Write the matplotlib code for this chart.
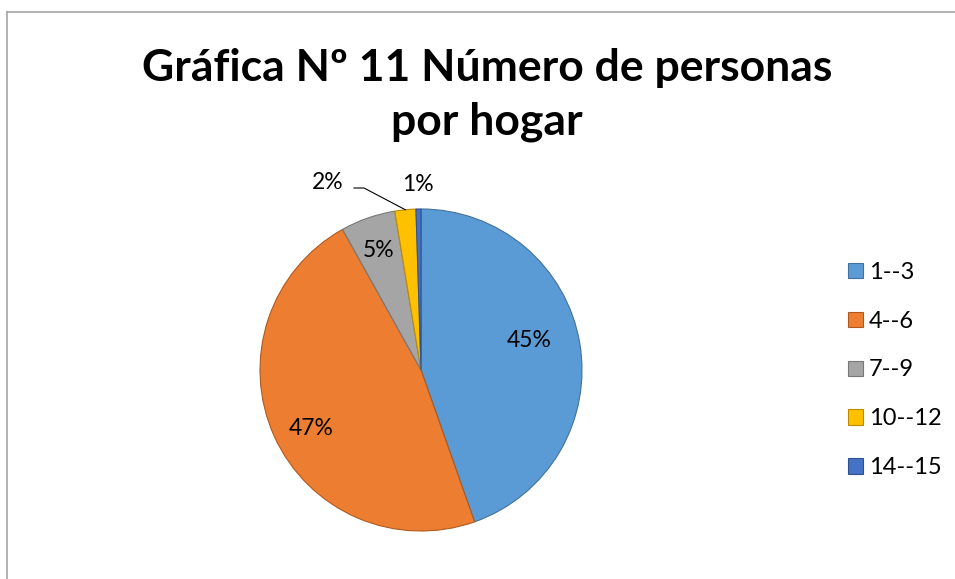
import numpy as np
import matplotlib
matplotlib.use("Agg")
import matplotlib.pyplot as plt
from matplotlib.lines import Line2D

categories = ["1--3", "4--6", "7--9", "10--12", "14--15"]
values = [44.6, 47.3, 5.5, 2.1, 0.5]
pct_labels = ["45%", "47%", "5%", "2%", "1%"]
colors = ["#5B9BD5", "#ED7D31", "#A5A5A5", "#FFC000", "#4472C4"]
edges = ["#41719C", "#AE5A21", "#787878", "#BC8C00", "#2F528F"]
title = "Gráfica Nº 11 Número de personas\npor hogar"

FONT = ["Lato", "DejaVu Sans"]
plt.rcParams["font.family"] = FONT

W, H = 955, 579
fig = plt.figure(figsize=(W / 100, H / 100), dpi=100)

# border (only top and left visible)
fig.add_artist(Line2D([6.5 / W, 1.0], [1 - 11.5 / H, 1 - 11.5 / H], color="#A6A6A6", lw=1.2))
fig.add_artist(Line2D([6.5 / W, 6.5 / W], [0, 1 - 11.5 / H], color="#A6A6A6", lw=1.2))

fig.text(487 / W, 1 - 95 / H, title, ha="center", va="center", fontsize=32,
         fontweight="bold", linespacing=1.38, color="#000000")

cx, cy, r = 421, 370, 161
ax = fig.add_axes([(cx - r) / W, (H - cy - r) / H, 2 * r / W, 2 * r / H])
wedges, _ = ax.pie(values, colors=colors, startangle=90, counterclock=False,
                   wedgeprops=dict(linewidth=0.8))
for w, e in zip(wedges, edges):
    w.set_edgecolor(e)
ax.set_xlim(-1, 1)
ax.set_ylim(-1, 1)
ax.set_aspect("equal")
ax.axis("off")

# label placement (radius factor, angle deg) per slice
place = [(0.70, 15.4), (0.77, 208.0), (0.79, 109.7), (1.30, 116.4), (1.15, 91.0)]
for lab, (rf, ang) in zip(pct_labels, place):
    a = np.deg2rad(ang)
    ax.text(rf * np.cos(a), rf * np.sin(a), lab, ha="center", va="center",
            fontsize=16.5, color="#000000", clip_on=False)

# leader line for the 2% label
w2 = wedges[3]
mid = np.deg2rad((w2.theta1 + w2.theta2) / 2)
x0 = (354 - cx) / r
y0 = (cy - 188) / r
x1 = (364 - cx) / r
ax.plot([x0, x1, np.cos(mid)], [y0, y0, np.sin(mid)], color="#000000", lw=0.8,
        clip_on=False)

handles = [plt.Rectangle((0, 0), 1, 1, facecolor=c, edgecolor=e, lw=0.8)
           for c, e in zip(colors, edges)]
fig.legend(handles, categories, loc="center left", bbox_to_anchor=(839 / W, 1 - 370 / H),
           frameon=False, fontsize=17, handlelength=0.62, handleheight=0.62,
           handletextpad=0.25, labelspacing=1.18, borderaxespad=0)

fig.savefig("out.png", dpi=100)
